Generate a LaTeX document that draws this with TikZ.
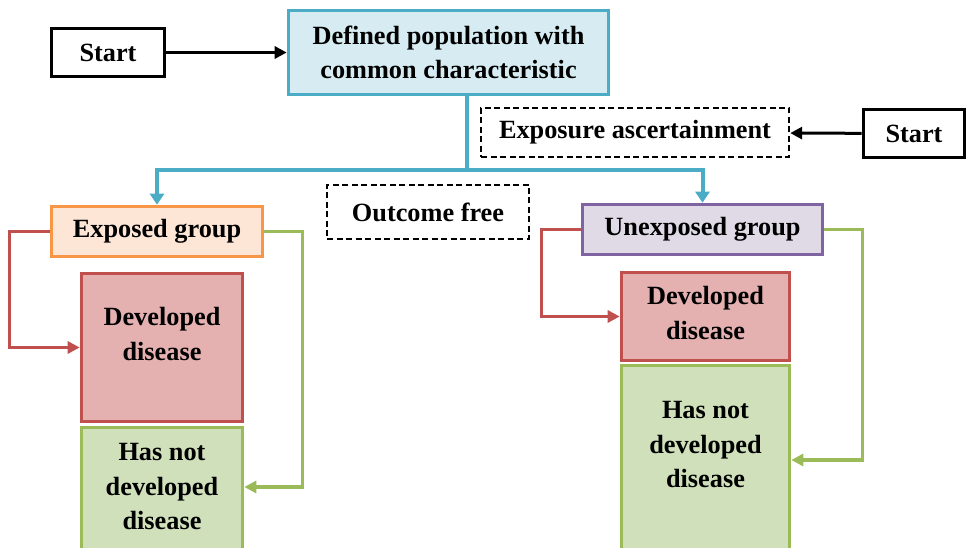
\documentclass[tikz,border=0pt]{standalone}
\usepackage{fontspec}
\setmainfont{Liberation Serif}
\usetikzlibrary{arrows.meta}
\definecolor{popline}{HTML}{4BACC6}
\definecolor{popfill}{HTML}{D6ECF2}
\definecolor{expline}{HTML}{F79646}
\definecolor{expfill}{HTML}{FDE6D6}
\definecolor{unline}{HTML}{8064A2}
\definecolor{unfill}{HTML}{DFDAE6}
\definecolor{disline}{HTML}{C0504D}
\definecolor{disfill}{HTML}{E4B0B0}
\definecolor{okline}{HTML}{9BBB59}
\definecolor{okfill}{HTML}{CFE0BA}
\begin{document}
\begin{tikzpicture}[x=1pt,y=-1pt,
  font=\fontsize{26.3}{34.5}\selectfont\bfseries,
  box/.style={draw, line width=3.6pt, inner sep=0pt, align=center},
  dbox/.style={draw, dash pattern=on 6pt off 3.5pt, line width=2.4pt, inner sep=0pt, align=center},
  txt/.style={inner sep=0pt, align=center},
  blk/.style={line width=3pt, -{Triangle[length=12pt,width=12pt]}},
  cyanline/.style={draw=popline, line width=4pt, -{Triangle[length=11pt,width=14pt]}},
  redline/.style={draw=disline, line width=3.2pt, -{Triangle[length=12pt,width=12pt]}},
  grnline/.style={draw=okline, line width=3.2pt, -{Triangle[length=12pt,width=12pt]}}]
\useasboundingbox (0,0) rectangle (967,548);
\clip (0,0) rectangle (967,548);

% top row
\node[box, draw=popline, fill=popfill, minimum width=320pt, minimum height=84pt]
  (pop) at (448.5,52.5) {Defined population with\\common characteristic};
\node[box, draw=black, minimum width=113pt, minimum height=48pt]
  (start1) at (108,52.5) {Start};
\node[dbox, minimum width=308pt, minimum height=49pt]
  (expo) at (635,132.5) {Exposure ascertainment};
\node[box, draw=black, minimum width=101pt, minimum height=48pt]
  (start2) at (914,133.5) {Start};
\node[dbox, minimum width=202pt, minimum height=54pt]
  (free) at (428,212) {Outcome free};

% groups
\node[box, draw=expline, fill=expfill, minimum width=211pt, minimum height=50pt]
  (exposed) at (157,231.5) {Exposed group};
\node[box, draw=unline, fill=unfill, minimum width=240pt, minimum height=50pt]
  (unexposed) at (702.5,229.5) {Unexposed group};

% outcomes, exposed side
\node[box, draw=disline, fill=disfill, minimum width=161pt, minimum height=148pt]
  (devL) at (162,347.5) {};
\node[txt] (devLtxt) at (162,334) {Developed\\disease};
\node[box, draw=okline, fill=okfill, minimum width=161pt, minimum height=171pt]
  (hasL) at (162,513) {};
\node[txt] (hasLtxt) at (162,487) {Has not\\developed\\disease};

% outcomes, unexposed side
\node[box, draw=disline, fill=disfill, minimum width=168pt, minimum height=88pt]
  (devR) at (705.5,316.5) {};
\node[txt] (devRtxt) at (705.5,313) {Developed\\disease};
\node[box, draw=okline, fill=okfill, minimum width=168pt, minimum height=233pt]
  (hasR) at (705.5,482) {};
\node[txt] (hasRtxt) at (705.5,445) {Has not\\developed\\disease};
\coordinate (hasRin) at ([yshift=-15pt]hasRtxt.center);

% connectors
\draw[blk] (start1) -- (pop);
\draw[blk] (start2) -- (expo);
\coordinate (split) at (467,170);
\draw[cyanline, -] (pop.south -| split) -- (split);
\draw[cyanline] (split) -| (exposed.north);
\draw[cyanline] (split) -| (unexposed.north);
\draw[redline] (exposed.west) -- ++(-40,0) |- (devL.west);
\draw[grnline] (exposed.east) -- ++(38,0) |- (hasL.east |- hasLtxt);
\draw[redline] (unexposed.west) -- ++(-39,0) |- (devR.west);
\draw[grnline] (unexposed.east) -- ++(38,0) |- (hasR.east |- hasRin);
\end{tikzpicture}
\end{document}
